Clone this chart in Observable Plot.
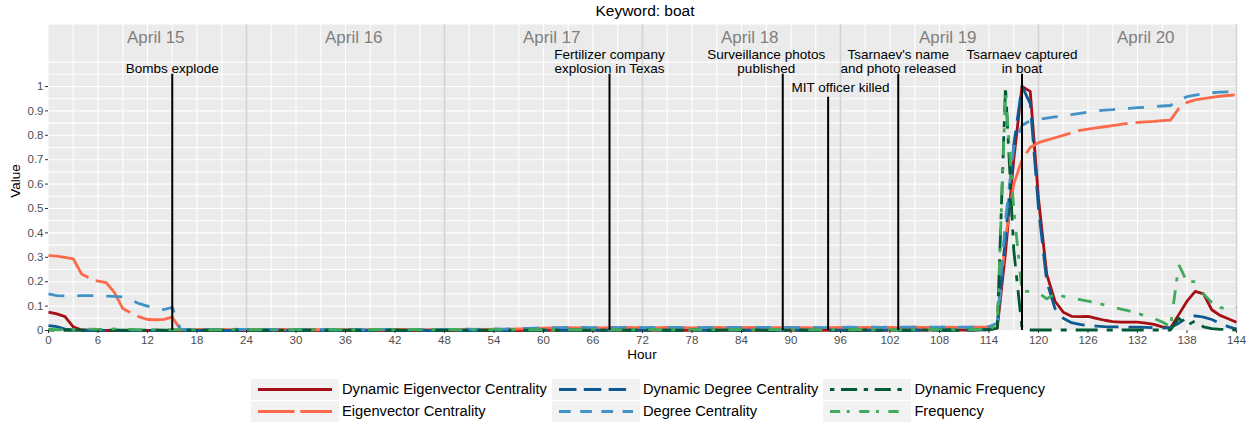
<!DOCTYPE html>
<html><head><meta charset="utf-8">
<script src="https://cdn.jsdelivr.net/npm/d3@7"></script>
<script src="https://cdn.jsdelivr.net/npm/@observablehq/plot@0.6"></script>
<style>
body{margin:0;background:#fff;font-family:"Liberation Sans",Arial,sans-serif;}
#wrap{position:relative;width:1248px;height:423px;overflow:hidden;}
#chart{position:absolute;left:0;top:0;}
#title{position:absolute;left:545px;width:200px;top:2px;text-align:center;font-size:15.5px;color:#000;}
#ylab{position:absolute;left:15px;top:181px;transform:translate(-50%,-50%) rotate(-90deg);font-size:13.5px;color:#000;}
#xlab{position:absolute;left:642px;top:354px;transform:translate(-50%,-50%);font-size:13.5px;color:#000;}
#legend{position:absolute;left:251px;top:379px;display:grid;grid-template-columns:88px max-content 88px max-content 88px max-content;row-gap:1px;font-size:14.7px;}
.key{width:88px;height:21px;background:#f2f2f2;}
.key svg{display:block;}
.lab{line-height:21px;padding:0 5px 0 3px;white-space:nowrap;color:#000;}
</style></head><body>
<div id="wrap">
<div id="chart"></div>
<div id="title">Keyword: boat</div>
<div id="ylab">Value</div>
<div id="xlab">Hour</div>
<div id="legend"></div>
</div>
<script>
const hours = d3.range(0, 145);

const seriesNames = ["Dynamic Eigenvector Centrality", "Eigenvector Centrality", "Dynamic Degree Centrality", "Degree Centrality", "Dynamic Frequency", "Frequency"];

const dynEig = [
0.075,0.068,0.057,0.015,0.002,0.001,0,0,0,0,0,0,
0,0,0,0,0,0,0,0,0,0,0,0,
0,0,0,0,0,0,0,0,0,0,0,0,
0,0,0,0,0,0,0,0,0,0,0,0,
0,0,0,0,0,0,0,0,0,0,0.001,0.001,
0.001,0.001,0.001,0.001,0.001,0.001,0.002,0.001,0.001,0.001,0.001,0.001,
0.001,0.001,0.001,0.001,0.001,0.001,0.001,0.001,0.001,0.001,0.001,0.001,
0.001,0.001,0.001,0.001,0.001,0.001,0.001,0.001,0.001,0.001,0.001,0.001,
0.001,0.001,0.001,0.002,0.001,0.001,0.002,0.002,0.002,0.003,0.002,0.002,
0.002,0.002,0.002,0.002,0.002,0.003,0.004,
0.01,0.32,0.70,1.0,0.98,0.54,0.23,0.12,0.075,0.058,
0.057,0.058,0.05,0.042,0.036,0.034,0.034,0.034,0.03,0.025,
0.015,0.01,0.065,0.12,0.16,0.15,0.085,0.062,0.048,0.034];

const eig = [
0.307,0.305,0.300,0.294,0.232,0.215,0.202,0.196,0.155,0.090,0.072,0.056,
0.045,0.044,0.046,0.055,0.003,0.003,0.004,0.003,0.003,0.004,0.003,0.003,
0.004,0.003,0.003,0.004,0.005,0.004,0.003,0.003,0.004,0.003,0.003,0.004,
0.003,0.004,0.004,0.003,0.003,0.004,0.005,0.004,0.003,0.004,0.003,0.004,
0.004,0.003,0.004,0.005,0.004,0.005,0.006,0.005,0.006,0.007,0.008,0.009,
0.010,0.011,0.011,0.012,0.011,0.012,0.012,0.011,0.012,0.012,0.013,0.012,
0.012,0.011,0.012,0.013,0.012,0.012,0.011,0.012,0.012,0.013,0.012,0.012,
0.012,0.013,0.012,0.011,0.012,0.012,0.013,0.012,0.012,0.011,0.012,0.012,
0.013,0.012,0.012,0.013,0.012,0.013,0.013,0.012,0.013,0.014,0.013,0.013,
0.013,0.014,0.013,0.013,0.014,0.014,0.015,
0.02,0.38,0.60,0.70,0.75,0.77,0.78,0.79,0.80,0.81,
0.82,0.825,0.83,0.835,0.84,0.845,0.85,0.853,0.855,0.857,
0.86,0.862,0.91,0.935,0.945,0.95,0.955,0.96,0.963,0.966];

const dynDeg = [
0.020,0.016,0.006,0.002,0.001,0,0,0,0,0,0,0,
0,0,0,0,0,0,0,0,0,0,0,0,
0,0,0,0,0,0,0,0,0,0,0,0,
0,0,0,0,0,0,0,0,0,0,0,0,
0,0,0,0,0,0,0,0,0,0.001,0.001,0.001,
0.001,0.001,0.001,0.001,0.001,0.001,0.001,0.001,0.001,0.001,0.001,0.001,
0.001,0.001,0.001,0.001,0.001,0.001,0.001,0.001,0.001,0.001,0.001,0.001,
0.001,0.001,0.001,0.001,0.001,0.001,0.001,0.001,0.001,0.001,0.001,0.001,
0.001,0.001,0.002,0.001,0.001,0.001,0.002,0.001,0.001,0.002,0.001,0.002,
0.002,0.002,0.002,0.002,0.002,0.003,0.004,
0.02,0.38,0.76,1.0,0.93,0.50,0.20,0.09,0.05,0.032,
0.025,0.02,0.018,0.016,0.015,0.015,0.014,0.014,0.013,0.012,
0.010,0.012,0.030,0.052,0.060,0.055,0.045,0.030,0.016,0.006];

const deg = [
0.150,0.143,0.142,0.142,0.143,0.143,0.142,0.141,0.140,0.138,0.125,0.110,
0.100,0.090,0.086,0.095,0.004,0.004,0.005,0.004,0.004,0.005,0.006,0.005,
0.004,0.005,0.004,0.004,0.005,0.004,0.005,0.004,0.004,0.005,0.004,0.005,
0.004,0.005,0.004,0.005,0.004,0.004,0.005,0.004,0.005,0.004,0.005,0.005,
0.005,0.004,0.005,0.006,0.005,0.006,0.007,0.006,0.007,0.008,0.009,0.010,
0.011,0.012,0.012,0.013,0.012,0.013,0.012,0.012,0.013,0.012,0.013,0.013,
0.012,0.013,0.012,0.013,0.013,0.012,0.013,0.012,0.013,0.013,0.012,0.013,
0.013,0.012,0.013,0.013,0.012,0.013,0.013,0.012,0.013,0.013,0.012,0.013,
0.013,0.014,0.013,0.013,0.014,0.013,0.014,0.013,0.014,0.014,0.013,0.014,
0.014,0.014,0.013,0.014,0.014,0.015,0.016,
0.03,0.45,0.75,0.84,0.86,0.865,0.87,0.875,0.88,0.885,
0.89,0.895,0.90,0.903,0.905,0.908,0.91,0.913,0.915,0.918,
0.92,0.922,0.945,0.958,0.965,0.97,0.974,0.977,0.978,0.978];

const dynFreq = [
0.002,0.001,0.001,0.002,0.001,0.001,0.002,0.001,0.002,0.001,0.001,0.001,
0.001,0.002,0.001,0.001,0.001,0.001,0.002,0.001,0.001,0.001,0.001,0.002,
0.001,0.001,0.001,0.002,0.001,0.001,0.001,0.001,0.002,0.001,0.001,0.001,
0.001,0.002,0.001,0.001,0.001,0.001,0.002,0.001,0.001,0.001,0.002,0.001,
0.001,0.001,0.001,0.002,0.001,0.001,0.001,0.002,0.001,0.001,0.001,0.001,
0.002,0.001,0.001,0.001,0.002,0.001,0.001,0.001,0.001,0.002,0.001,0.001,
0.001,0.002,0.001,0.001,0.001,0.001,0.002,0.001,0.001,0.001,0.002,0.001,
0.001,0.001,0.002,0.001,0.001,0.001,0.001,0.002,0.001,0.001,0.001,0.002,
0.001,0.001,0.001,0.002,0.001,0.001,0.001,0.002,0.001,0.001,0.002,0.001,
0.001,0.002,0.001,0.001,0.002,0.002,0.003,
0.01,1.0,0.33,0.01,0.002,0.002,0.002,0.002,0.002,0.002,
0.002,0.002,0.002,0.002,0.002,0.002,0.002,0.002,0.002,0.002,
0.002,0.002,0.05,0.02,0.04,0.015,0.008,0.005,0.003,0.002];

const freq = [
0.004,0.003,0.003,0.004,0.004,0.006,0.005,0.004,0.007,0.005,0.004,0.003,
0.003,0.004,0.003,0.003,0.003,0.003,0.004,0.003,0.003,0.003,0.004,0.003,
0.003,0.003,0.004,0.003,0.003,0.003,0.003,0.004,0.003,0.003,0.003,0.003,
0.004,0.003,0.003,0.003,0.004,0.003,0.003,0.003,0.004,0.003,0.003,0.003,
0.003,0.004,0.003,0.003,0.003,0.004,0.003,0.003,0.003,0.004,0.003,0.003,
0.003,0.003,0.004,0.003,0.003,0.003,0.004,0.003,0.003,0.003,0.004,0.003,
0.003,0.004,0.003,0.003,0.003,0.004,0.003,0.003,0.004,0.003,0.003,0.003,
0.004,0.003,0.003,0.003,0.004,0.003,0.003,0.004,0.003,0.003,0.003,0.004,
0.003,0.003,0.004,0.003,0.003,0.004,0.003,0.003,0.004,0.003,0.003,0.004,
0.003,0.004,0.003,0.003,0.004,0.005,0.008,
0.02,0.97,0.50,0.16,0.16,0.155,0.13,0.15,0.14,0.13,
0.127,0.12,0.113,0.105,0.095,0.088,0.08,0.07,0.06,0.05,
0.035,0.015,0.27,0.20,0.20,0.15,0.115,0.095,0.085,0.095];

const seriesValues = [dynEig, eig, dynDeg, deg, dynFreq, freq];
const seriesColors = ["#a50f15", "#fb6a4a", "#0b5a91", "#4292c6", "#005a32", "#41ab5d"];
const seriesDash = [null, "50,8", "24,10", "16,13", "6,9,22,9", "14,9,4,13"];

const xTicks = [0,6,12,18,24,30,36,42,48,54,60,66,72,78,84,90,96,102,108,114,120,126,132,138,144];
const yTicks = [0,0.1,0.2,0.3,0.4,0.5,0.6,0.7,0.8,0.9,1];
const yTickLabels = ["0","0.1","0.2","0.3","0.4","0.5","0.6","0.7","0.8","0.9","1"];
const xGrid = [3,6,9,12,15,18,21,27,30,33,36,39,42,45,51,54,57,60,63,66,69,75,78,81,84,87,90,93,99,102,105,108,111,114,117,123,126,129,132,135,138,141];
const yGrid = [0,0.05,0.1,0.15,0.2,0.25,0.3,0.35,0.4,0.45,0.5,0.55,0.6,0.65,0.7,0.75,0.8,0.85,0.9,0.95,1,1.05,1.1];

const dayLabels = ["April 15","April 16","April 17","April 18","April 19","April 20"];
const dayLabelHours = [13,37,61,85,109,133];
const dayLabelY = 1.202;
const dayBoundaries = [24,48,72,96,120,144];

const eventHours = [15,68,89,94.5,103,118];
const eventLineTops = [1.05,1.05,1.05,0.956,1.05,1.05];
const eventLabels = ["Bombs explode","Fertilizer company\nexplosion in Texas","Surveillance photos\npublished","MIT officer killed","Tsarnaev's name\nand photo released","Tsarnaev captured\nin boat"];
const eventLabelHours = [15,68,87,96,103,118];
const eventLabelY = [1.054,1.054,1.054,0.978,1.054,1.054];

const events = eventHours.map((h,i) => ({hour:h, top:eventLineTops[i], label:eventLabels[i], lx:eventLabelHours[i], ly:eventLabelY[i]}));
const days = dayLabels.map((t,i) => ({label:t, hour:dayLabelHours[i], y:dayLabelY}));

const lineMarks = seriesNames.map((name, s) => {
  const rows = hours.map((h, i) => ({hour: h, value: seriesValues[s][i]}));
  const opts = {x:"hour", y:"value", stroke: seriesColors[s], strokeWidth: 2.8, strokeLinejoin: "round", strokeLinecap: "butt"};
  if (seriesDash[s]) opts.strokeDasharray = seriesDash[s];
  return Plot.line(rows, opts);
});

const chart = Plot.plot({
  width: 1248, height: 370,
  marginLeft: 48, marginRight: 12, marginTop: 24, marginBottom: 40,
  style: {fontFamily: "'Liberation Sans', Arial, sans-serif", background: "transparent"},
  x: {domain: [0,144], label: null},
  y: {domain: [0,1.254], label: null},
  marks: [
    Plot.frame({fill: "#ebebeb", stroke: null}),
    Plot.ruleY(yGrid, {stroke: "white", strokeWidth: 1.1}),
    Plot.ruleX(xGrid, {stroke: "white", strokeWidth: 1.1}),
    Plot.ruleX(dayBoundaries, {stroke: "#d4d4d4", strokeWidth: 1.6}),
    ...lineMarks,
    Plot.ruleX(events, {x: "hour", y1: 0, y2: "top", stroke: "black", strokeWidth: 2}),
    Plot.text(events, {x: "lx", y: "ly", text: "label", lineAnchor: "bottom", lineHeight: 1.06, fontSize: 13.5, fill: "black"}),
    Plot.text(days, {x: "hour", y: "y", text: "label", fontSize: 17, fill: "#7f7f7f"}),
    Plot.axisX({ticks: xTicks, tickSize: 3, tickPadding: 2, fontSize: 11.5, stroke: "#333333", fill: "#4d4d4d", label: null}),
    Plot.axisY({ticks: yTicks, tickFormat: d => yTickLabels[yTicks.indexOf(d)], tickSize: 3, tickPadding: 2, fontSize: 11.5, stroke: "#333333", fill: "#4d4d4d", label: null})
  ]
});
document.getElementById("chart").appendChild(chart);

const legend = document.getElementById("legend");
const legendOrder = [0,2,4,1,3,5];
for (const s of legendOrder) {
  const key = document.createElement("div");
  key.className = "key";
  const dash = seriesDash[s] ? seriesDash[s].split(",").map(v => (+v * 0.73).toFixed(1)).join(",") : null;
  key.innerHTML = `<svg width="88" height="21"><line x1="7" x2="81" y1="10.5" y2="10.5" stroke="${seriesColors[s]}" stroke-width="2.8"${dash ? ` stroke-dasharray="${dash}"` : ""}/></svg>`;
  const lab = document.createElement("div");
  lab.className = "lab";
  lab.textContent = seriesNames[s];
  legend.appendChild(key);
  legend.appendChild(lab);
}
</script>
</body></html>
